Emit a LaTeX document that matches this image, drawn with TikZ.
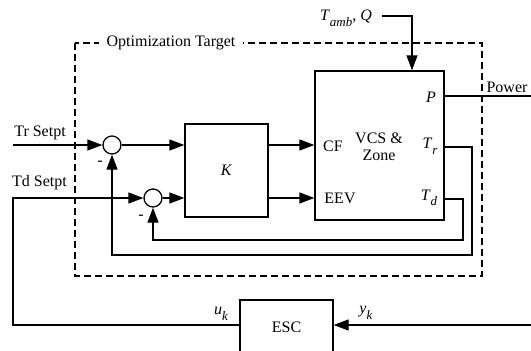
\documentclass[tikz,border=0pt]{standalone}
\usepackage{fontspec}
\setmainfont{Liberation Serif}
\usetikzlibrary{arrows.meta,positioning}

\newcommand{\sig}[2]{\textit{#1}\raisebox{-0.35em}{\fontsize{13}{13}\selectfont\textit{#2}}}

\begin{document}
\begin{tikzpicture}[x=1pt,y=-1pt,line width=1.3pt,
    font=\fontsize{16}{17}\selectfont,
    box/.style={draw,rectangle,inner sep=0pt},
    sum/.style={draw,circle,minimum size=18pt,inner sep=0pt},
    arr/.style={-{Triangle[length=15pt,width=11pt]}}]

  \clip (0,0) rectangle (531,351);

  % The optimization target
  \draw[dash pattern=on 7pt off 4pt] (75,43) rectangle (482,276);
  \node[fill=white,inner xsep=8pt,inner ysep=1pt] (opt) at (171,43) {Optimization Target};

  % Blocks and summing points
  \node[box,minimum width=83pt,minimum height=93pt] (K) at (226.5,170.5) {\textit{K}};
  \node[box,minimum width=129pt,minimum height=149pt] (vcs) at (379.5,145.5) {};
  \node[box,minimum width=93pt,minimum height=54pt] (esc) at (286.5,327) {ESC};
  \node[sum] (c1) at (112,145) {};
  \node[sum] (c2) at (153,198) {};

  % Labels inside the plant
  \node (cf) at (333,146) {CF};
  \node[align=center] (zone) at (379,147) {VCS \&\\Zone};
  \node (eev) at (340,198) {EEV};
  \node (pl) at (431,97) {\textit{P}};
  \node (trn) at (430,146) {\sig{T}{r}};
  \node (tdn) at (429,198) {\sig{T}{d}};

  % Outer labels
  \node (trl) at (40,133) {Tr Setpt};
  \node (tdl) at (39.5,183) {Td Setpt};
  \node (tq) at (346,18) {\sig{T}{amb}, \textit{Q}};
  \node (pwl) at (507,87) {Power};
  \node (ukl) at (221,314) {\sig{u}{k}};
  \node (ykl) at (366,313) {\sig{y}{k}};
  \node (m1) at (100,163) {-};
  \node (m2) at (141,217) {-};

  % Free ends
  \coordinate (tr) at (13,145);
  \coordinate (td) at (13,198);
  \coordinate (amb) at (382,16);
  \coordinate (pw) at (531,96);
  \coordinate (yk) at (531,325);

  % Forward path
  \draw[arr] (tr) -- (c1);
  \draw[arr] (c1) -- (c1 -| K.west);
  \draw[arr] (K.east |- c1) -- (c1 -| vcs.west);
  \draw[arr] (c2) -- (c2 -| K.west);
  \draw[arr] (K.east |- c2) -- (c2 -| vcs.west);
  \draw[arr] (amb) -| (vcs.north -| 412,0);
  \draw (vcs.east |- pw) -- (pw);

  % Feedback loops
  \draw[arr] (vcs.east |- 0,147) -- (472,147) -- (472,255) -| (c1);
  \draw[arr] (vcs.east |- 0,199) -- (463,199) -- (463,240) -| (c2);

  % Extremum seeking loop
  \draw[arr] (esc.west |- yk) -| (td) -- (c2);
  \draw[arr] (yk) -- (yk -| esc.east);

\end{tikzpicture}
\end{document}
